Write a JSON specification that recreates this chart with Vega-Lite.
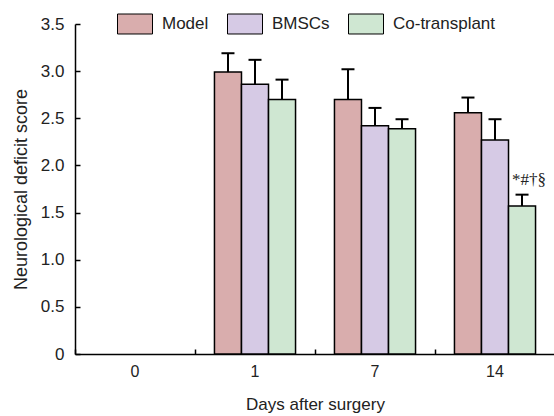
{
  "$schema": "https://vega.github.io/schema/vega-lite/v6.json",
  "width": 480,
  "height": 330,
  "autosize": {"type": "none"},
  "padding": {"left": 75, "top": 24, "right": 0, "bottom": 62},
  "background": "white",
  "config": {"view": {"stroke": null}, "font": "Liberation Sans"},
  "data": {
    "values": [
      {"day": "1", "group": "Model", "value": 2.99, "upper": 3.19},
      {"day": "1", "group": "BMSCs", "value": 2.86, "upper": 3.12},
      {"day": "1", "group": "Co-transplant", "value": 2.70, "upper": 2.91},
      {"day": "7", "group": "Model", "value": 2.70, "upper": 3.02},
      {"day": "7", "group": "BMSCs", "value": 2.42, "upper": 2.61},
      {"day": "7", "group": "Co-transplant", "value": 2.39, "upper": 2.49},
      {"day": "14", "group": "Model", "value": 2.56, "upper": 2.72},
      {"day": "14", "group": "BMSCs", "value": 2.27, "upper": 2.49},
      {"day": "14", "group": "Co-transplant", "value": 1.57, "upper": 1.69, "note": "*#†§"}
    ]
  },
  "encoding": {
    "x": {
      "field": "day",
      "type": "nominal",
      "sort": ["0", "1", "7", "14"],
      "scale": {"domain": ["0", "1", "7", "14"], "paddingInner": 0, "paddingOuter": 0},
      "axis": {
        "title": "Days after surgery",
        "labelAngle": 0,
        "bandPosition": 0,
        "tickSize": -5,
        "tickWidth": 1.5,
        "tickColor": "black",
        "domainColor": "black",
        "domainWidth": 1.5,
        "labelFontSize": 16,
        "titleFontSize": 17,
        "titleFontWeight": "normal",
        "labelColor": "#222",
        "titleColor": "#222",
        "labelPadding": 14,
        "titlePadding": 17
      }
    },
    "xOffset": {
      "field": "group",
      "type": "nominal",
      "sort": ["Model", "BMSCs", "Co-transplant"],
      "scale": {"domain": ["Model", "BMSCs", "Co-transplant"], "paddingInner": 0, "paddingOuter": 0.72}
    }
  },
  "layer": [
    {
      "mark": {"type": "bar", "stroke": "black", "strokeWidth": 1.5},
      "encoding": {
        "y": {
          "field": "value",
          "type": "quantitative",
          "scale": {"domain": [0, 3.5], "nice": false},
          "axis": {
            "title": "Neurological deficit score",
            "values": [0, 0.5, 1, 1.5, 2, 2.5, 3, 3.5],
            "labelExpr": "datum.value == 0 ? '0' : format(datum.value, '.1f')",
            "grid": false,
            "tickSize": -5,
            "tickWidth": 1.5,
            "tickColor": "black",
            "domainColor": "black",
            "domainWidth": 1.5,
            "labelFontSize": 17,
            "titleFontSize": 18,
            "titleFontWeight": "normal",
            "labelColor": "#222",
            "titleColor": "#222",
            "labelPadding": 16,
            "titlePadding": 10
          }
        },
        "color": {
          "field": "group",
          "type": "nominal",
          "sort": ["Model", "BMSCs", "Co-transplant"],
          "scale": {"domain": ["Model", "BMSCs", "Co-transplant"], "range": ["#d9adad", "#d6cae5", "#cfe7d2"]},
          "legend": {
            "title": null,
            "orient": "none",
            "direction": "horizontal",
            "legendX": 42,
            "legendY": -18,
            "symbolType": "M-1,-0.571H1V0.571H-1Z",
            "symbolSize": 1225,
            "symbolStrokeColor": "black",
            "symbolStrokeWidth": 1,
            "symbolOpacity": 1,
            "labelFontSize": 17,
            "labelColor": "#222",
            "labelOffset": 9,
            "columnPadding": 16
          }
        }
      }
    },
    {
      "mark": {"type": "rule", "strokeWidth": 2, "color": "black"},
      "encoding": {
        "y": {"field": "value", "type": "quantitative"},
        "y2": {"field": "upper"}
      }
    },
    {
      "mark": {"type": "tick", "orient": "horizontal", "size": 13, "thickness": 2, "color": "black", "opacity": 1},
      "encoding": {
        "y": {"field": "upper", "type": "quantitative"}
      }
    },
    {
      "transform": [{"filter": "datum.note"}],
      "mark": {"type": "text", "font": "Liberation Serif", "fontSize": 17, "color": "#222", "dy": -15, "dx": 7},
      "encoding": {
        "y": {"field": "upper", "type": "quantitative"},
        "text": {"field": "note"}
      }
    }
  ]
}
